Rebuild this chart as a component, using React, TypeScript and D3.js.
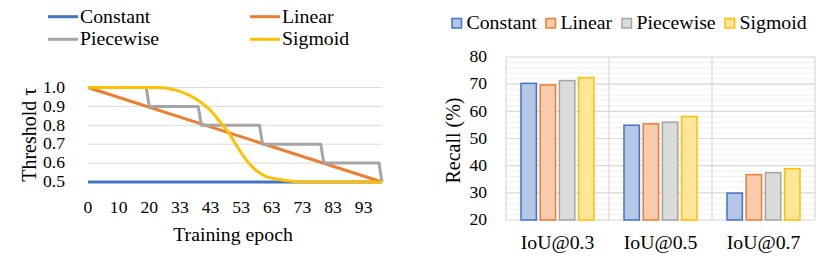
import React, { useEffect, useRef } from "react";
import * as d3 from "d3";

// ---- left chart: threshold schedules (x = sample index, labels every 10th sample) ----
const xTickIndex = [0, 10, 20, 30, 40, 50, 60, 70, 80, 90];
const xTickLabels = ["0", "10", "20", "33", "43", "53", "63", "73", "83", "93"];
const yTicksLeft = [0.5, 0.6, 0.7, 0.8, 0.9, 1.0];

const constantPts: [number, number][] = [[0, 0.5], [96, 0.5]];
const linearPts: [number, number][] = [[0, 1.0], [96, 0.5]];
const piecewisePts: [number, number][] = [
  [0, 1.0], [19, 1.0], [20, 0.9], [36, 0.9], [37, 0.8], [56, 0.8],
  [57, 0.7], [76, 0.7], [77, 0.6], [95, 0.6], [96, 0.5],
];
const sigmoidPts: [number, number][] = [
  [0, 1.0], [23, 1.0], [29, 0.985], [33, 0.96], [37, 0.92], [40, 0.88],
  [43, 0.82], [46, 0.76], [49, 0.68], [52, 0.61], [55, 0.56], [58, 0.53],
  [62, 0.515], [66, 0.505], [70, 0.5], [96, 0.5],
];

// ---- right chart: recall per IoU threshold ----
const categories = ["IoU@0.3", "IoU@0.5", "IoU@0.7"];
const seriesNames = ["Constant", "Linear", "Piecewise", "Sigmoid"];
const recallConstant = [70.3, 54.9, 29.9];
const recallLinear = [69.7, 55.4, 36.7];
const recallPiecewise = [71.3, 56.0, 37.4];
const recallSigmoid = [72.4, 58.1, 38.9];
const yTicksRight = [20, 30, 40, 50, 60, 70, 80];

const lineColors = ["#4472c4", "#ed7d31", "#a5a5a5", "#ffc000"];
const barFills = ["#b4c7e7", "#f8cbad", "#dbdbdb", "#ffe699"];

const FONT = "'Liberation Serif', 'Times New Roman', serif";
const SX = 1.1; // text in the reference is slightly wide

export default function App() {
  const svgRef = useRef<SVGSVGElement>(null);

  useEffect(() => {
    if (!svgRef.current) return;
    const svg = d3.select(svgRef.current);
    svg.selectAll("*").remove();

    const text = (x: number, y: number, s: string, size: number, anchor = "start") =>
      svg.append("text")
        .attr("transform", `translate(${x},${y}) scale(${SX},1)`)
        .attr("text-anchor", anchor)
        .attr("dominant-baseline", "central")
        .attr("font-family", FONT)
        .attr("font-size", size)
        .attr("fill", "#000")
        .text(s);

    // ================= LEFT =================
    const x = d3.scaleLinear().domain([0, 96]).range([88, 382]);
    const y = d3.scaleLinear().domain([0.5, 1.0]).range([182, 87.5]);

    // grid
    svg.append("g").selectAll("line")
      .data(yTicksLeft)
      .join("line")
      .attr("x1", x(0)).attr("x2", x(96))
      .attr("y1", d => y(d)).attr("y2", d => y(d))
      .attr("stroke", "#d9d9d9").attr("stroke-width", 1);

    yTicksLeft.forEach(v => text(65, y(v), v.toFixed(1), 16, "end"));
    xTickIndex.forEach((i, k) => text(x(i), 208, xTickLabels[k], 16, "middle"));
    text(233, 235, "Training epoch", 18, "middle");

    svg.append("text")
      .attr("transform", `translate(29,${(y(1) + y(0.5)) / 2}) rotate(-90)`)
      .attr("text-anchor", "middle")
      .attr("dominant-baseline", "central")
      .attr("font-family", FONT)
      .attr("font-size", 20)
      .text("Threshold τ");

    const line = d3.line<[number, number]>().x(d => x(d[0])).y(d => y(d[1]));
    const smooth = d3.line<[number, number]>().curve(d3.curveMonotoneX).x(d => x(d[0])).y(d => y(d[1]));

    [constantPts, linearPts, piecewisePts].forEach((pts, k) => {
      svg.append("path")
        .datum(pts)
        .attr("fill", "none")
        .attr("stroke", lineColors[k])
        .attr("stroke-width", 3)
        .attr("stroke-linejoin", "round")
        .attr("d", line);
    });
    svg.append("path")
      .datum(sigmoidPts)
      .attr("fill", "none")
      .attr("stroke", lineColors[3])
      .attr("stroke-width", 3)
      .attr("d", smooth);

    // legend (2x2)
    const legLeft = [
      { x: 48, y: 16.7 }, { x: 250, y: 16.7 },
      { x: 48, y: 39.3 }, { x: 250, y: 39.3 },
    ];
    seriesNames.forEach((name, k) => {
      const p = legLeft[k];
      svg.append("line")
        .attr("x1", p.x).attr("x2", p.x + 30)
        .attr("y1", p.y).attr("y2", p.y)
        .attr("stroke", lineColors[k]).attr("stroke-width", 3);
      text(p.x + 32, p.y, name, 18);
    });

    // ================= RIGHT =================
    const values = [recallConstant, recallLinear, recallPiecewise, recallSigmoid];
    const x0 = d3.scaleBand().domain(categories).range([506, 815]);
    const x1 = d3.scaleBand().domain(seriesNames).range([15, 88]).paddingInner(0.2);
    const yr = d3.scaleLinear().domain([20, 80]).range([220, 57]);

    // minor grid
    svg.append("g").selectAll("line")
      .data(d3.range(20, 81, 2))
      .join("line")
      .attr("x1", 506).attr("x2", 815)
      .attr("y1", d => yr(d)).attr("y2", d => yr(d))
      .attr("stroke", "#f0f0f0").attr("stroke-width", 1);
    // major grid
    svg.append("g").selectAll("line")
      .data(yTicksRight)
      .join("line")
      .attr("x1", 506).attr("x2", 815)
      .attr("y1", d => yr(d)).attr("y2", d => yr(d))
      .attr("stroke", "#d9d9d9").attr("stroke-width", 1.2);
    // vertical separators
    svg.append("g").selectAll("line")
      .data([...categories.map(c => x0(c)!), 815])
      .join("line")
      .attr("x1", d => d).attr("x2", d => d)
      .attr("y1", yr(80)).attr("y2", yr(20))
      .attr("stroke", "#d9d9d9").attr("stroke-width", 1.2);

    categories.forEach((c, ci) => {
      seriesNames.forEach((s, si) => {
        const v = values[si][ci];
        svg.append("rect")
          .attr("x", x0(c)! + x1(s)!)
          .attr("y", yr(v))
          .attr("width", x1.bandwidth())
          .attr("height", yr(20) - yr(v))
          .attr("fill", barFills[si])
          .attr("stroke", lineColors[si])
          .attr("stroke-width", 1.5);
      });
      text(x0(c)! + x0.bandwidth() / 2, 243, c, 18, "middle");
    });

    yTicksRight.forEach(v => text(487, yr(v), String(v), 16, "end"));

    svg.append("text")
      .attr("transform", `translate(453,${(yr(80) + yr(20)) / 2 + 2}) rotate(-90)`)
      .attr("text-anchor", "middle")
      .attr("dominant-baseline", "central")
      .attr("font-family", FONT)
      .attr("font-size", 20)
      .text("Recall (%)");

    const legRight = [452, 546, 622, 725];
    seriesNames.forEach((name, k) => {
      svg.append("rect")
        .attr("x", legRight[k]).attr("y", 18.5)
        .attr("width", 9.5).attr("height", 9.5)
        .attr("fill", barFills[k])
        .attr("stroke", lineColors[k])
        .attr("stroke-width", 1.5);
      text(legRight[k] + 14.5, 23.3, name, 18);
    });
  }, []);

  return (
    <svg
      ref={svgRef}
      width={830}
      height={265}
      style={{ position: "absolute", left: 0, top: 0, background: "#fff" }}
    />
  );
}
